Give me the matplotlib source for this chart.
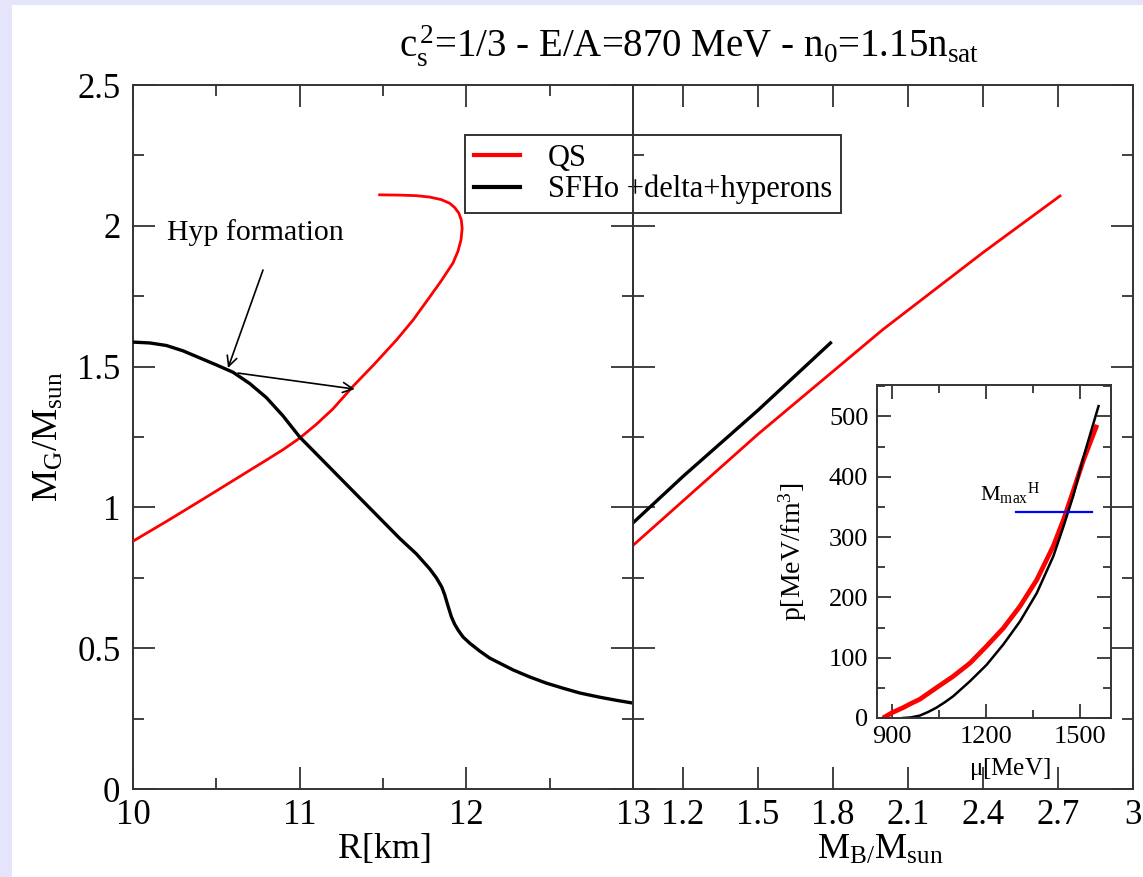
import matplotlib
matplotlib.use("Agg")
import matplotlib.pyplot as plt
from matplotlib.ticker import MultipleLocator
from matplotlib.patches import Rectangle
from matplotlib.lines import Line2D

plt.rcParams['font.family'] = ['Liberation Serif', 'DejaVu Serif']
plt.rcParams['mathtext.fontset'] = 'custom'
plt.rcParams['mathtext.rm'] = 'Liberation Serif'
plt.rcParams['mathtext.it'] = 'Liberation Serif:italic'
plt.rcParams['mathtext.bf'] = 'Liberation Serif:bold'

# ---------------- data ----------------
# Left panel: M_G vs R
qs_R = [10.0, 10.2, 10.4, 10.6, 10.8, 10.9, 11.0, 11.1, 11.2, 11.32, 11.45, 11.58, 11.68,
        11.78, 11.85, 11.92, 11.95, 11.968, 11.975, 11.97, 11.955, 11.93, 11.9, 11.85,
        11.78, 11.7, 11.6, 11.48]
qs_M = [0.88, 0.95, 1.022, 1.095, 1.168, 1.205, 1.246, 1.295, 1.35, 1.43, 1.51, 1.594, 1.665,
        1.747, 1.805, 1.868, 1.91, 1.95, 1.99, 2.02, 2.045, 2.065, 2.08, 2.093,
        2.102, 2.107, 2.109, 2.11]

hyp_R = [10.0, 10.1, 10.2, 10.3, 10.4, 10.5, 10.6, 10.7, 10.8, 10.9, 11.0, 11.1, 11.2,
         11.3, 11.4, 11.5, 11.6, 11.7, 11.78, 11.82, 11.852, 11.87, 11.89, 11.91, 11.93,
         11.95, 11.98, 12.02, 12.08, 12.14, 12.2, 12.28, 12.38, 12.48, 12.58, 12.68,
         12.8, 12.9, 13.0]
hyp_M = [1.587, 1.584, 1.575, 1.556, 1.531, 1.506, 1.48, 1.44, 1.39, 1.325, 1.25, 1.19, 1.13,
         1.07, 1.01, 0.95, 0.89, 0.835, 0.782, 0.75, 0.718, 0.69, 0.65, 0.612, 0.585,
         0.565, 0.54, 0.518, 0.49, 0.465, 0.447, 0.423, 0.398, 0.376, 0.358, 0.341,
         0.326, 0.315, 0.305]

# Right panel: M_G vs M_B
qs_MB = [1.0, 1.5, 2.0, 2.4, 2.708]
qs_MG = [0.865, 1.26, 1.632, 1.905, 2.106]
hyp_MB = [1.0, 1.2, 1.5, 1.79]
hyp_MG = [0.945, 1.11, 1.345, 1.584]

# Inset: p vs mu
qs_mu = [870, 900, 934, 960, 988, 1041, 1095, 1149, 1202, 1256, 1309, 1363, 1416, 1449, 1481, 1513, 1556]
qs_p = [0, 9, 17, 24, 31, 50, 69, 91, 119, 149, 185, 229, 285, 329, 378, 428, 486]
hyp_mu = [934, 960, 988, 1015, 1041, 1068, 1095, 1149, 1202, 1256, 1309, 1363, 1416, 1449, 1481, 1513, 1561]
hyp_p = [0, 1, 4, 10, 17, 26, 36, 61, 88, 122, 160, 207, 268, 318, 370, 433, 517]
mmax_p = 341
mmax_mu = [1296, 1540]

left_xticks = [10, 11, 12, 13]
right_xticks = [1.2, 1.5, 1.8, 2.1, 2.4, 2.7, 3.0]
right_xticklabels = ['1.2', '1.5', '1.8', '2.1', '2.4', '2.7', '3']
yticks = [0, 0.5, 1, 1.5, 2, 2.5]
yticklabels = ['0', '0.5', '1', '1.5', '2', '2.5']
inset_xticks = [900, 1200, 1500]
inset_yticks = [0, 100, 200, 300, 400, 500]

# ---------------- figure ----------------
W, H = 1143, 877
fig = plt.figure(figsize=(W / 100, H / 100), dpi=100)
fig.patch.set_facecolor('white')

lav = '#e4e4fa'
fig.add_artist(Rectangle((0, 0), 12 / W, 1, transform=fig.transFigure, color=lav, lw=0, zorder=0))
fig.add_artist(Rectangle((0, 1 - 5 / H), 1, 5 / H, transform=fig.transFigure, color=lav, lw=0, zorder=0))

def px_axes(x0, y0, x1, y1):
    return [x0 / W, 1 - y1 / H, (x1 - x0) / W, (y1 - y0) / H]

ax1 = fig.add_axes(px_axes(133, 85, 633, 789))
ax2 = fig.add_axes(px_axes(633, 85, 1133, 789))
ax2.patch.set_alpha(0)
axin = fig.add_axes(px_axes(876.7, 385, 1110.7, 718))

spine_c = '#333333'
for a in (ax1, ax2, axin):
    for s in a.spines.values():
        s.set_color(spine_c)
        s.set_linewidth(1.4)

def style(a, labelsize, major, minor, pad):
    a.tick_params(which='both', direction='in', top=True, right=True,
                  color=spine_c, width=1.3, labelsize=labelsize, pad=pad)
    a.tick_params(which='major', length=major)
    a.tick_params(which='minor', length=minor)

# left panel
ax1.plot(qs_R, qs_M, color='#ff0000', lw=2.0, zorder=3)
ax1.plot(hyp_R, hyp_M, color='black', lw=2.4, zorder=3)
ax1.set_xlim(10, 13)
ax1.set_ylim(0, 2.5)
ax1.set_xticks(left_xticks)
ax1.set_xticklabels([str(t) for t in left_xticks])
ax1.xaxis.set_minor_locator(MultipleLocator(0.5))
ax1.set_yticks(yticks)
ax1.set_yticklabels(yticklabels)
ax1.yaxis.set_minor_locator(MultipleLocator(0.25))
style(ax1, 25, 16, 8, 7)
ax1.tick_params(axis='y', pad=9)
ax1.set_xlabel('R[km]', fontsize=26)
ax1.xaxis.set_label_coords(0.504, -0.063)
ax1.xaxis.label.set_va('top')
ax1.set_ylabel(r'$\mathrm{M_G/M_{sun}}$', fontsize=26)
ax1.yaxis.set_label_coords(-0.134, 0.5)

ax1.text(10.204, 1.95, 'Hyp formation', fontsize=21.5, ha='left', va='baseline')
arrow_kw = dict(arrowstyle='->', color='black', lw=1.2, mutation_scale=18, shrinkA=0, shrinkB=0)
ax1.annotate('', xy=(10.57, 1.495), xytext=(10.78, 1.843), arrowprops=arrow_kw)
ax1.annotate('', xy=(11.33, 1.42), xytext=(10.63, 1.477), arrowprops=arrow_kw)

handles = [Line2D([], [], color='#ff0000', lw=3),
           Line2D([], [], color='black', lw=3)]
leg = ax1.legend(handles, ['QS', 'SFHo +delta+hyperons'], fontsize=22,
                 loc='upper left', bbox_to_anchor=(465 / W, 1 - 135 / H),
                 bbox_transform=fig.transFigure, borderaxespad=0, frameon=True,
                 fancybox=False, framealpha=1, edgecolor='#333333',
                 handlelength=1.5, handletextpad=0.9, labelspacing=0.05,
                 borderpad=0.3)
leg.get_frame().set_linewidth(1.4)
leg.set_zorder(10)

# right panel
ax2.plot(qs_MB, qs_MG, color='#ff0000', lw=2.0)
ax2.plot(hyp_MB, hyp_MG, color='black', lw=2.4)
ax2.set_xlim(1.0, 3.0)
ax2.set_ylim(0, 2.5)
ax2.set_xticks(right_xticks)
ax2.set_xticklabels(right_xticklabels)
ax2.set_yticks(yticks)
ax2.set_yticklabels([])
ax2.yaxis.set_minor_locator(MultipleLocator(0.25))
style(ax2, 25, 16, 8, 7)
ax2.set_xlabel(r'$\mathrm{M_{B/}M_{sun}}$', fontsize=26)
ax2.xaxis.set_label_coords(0.494, -0.063)
ax2.xaxis.label.set_va('top')

# inset
axin.plot(qs_mu, qs_p, color='#ff0000', lw=3.4, solid_capstyle='butt')
axin.plot(hyp_mu, hyp_p, color='black', lw=1.8)
axin.plot(mmax_mu, [mmax_p, mmax_p], color='#0000ff', lw=1.6)
axin.text(1181, 360, r'$\mathrm{M_{max}{}^{H}}$', fontsize=16, ha='left', va='baseline')
axin.set_xlim(850, 1600)
axin.set_ylim(0, 552)
axin.set_xticks(inset_xticks)
axin.set_xticklabels([str(t) for t in inset_xticks])
axin.xaxis.set_minor_locator(MultipleLocator(150))
axin.set_yticks(inset_yticks)
axin.set_yticklabels([str(t) for t in inset_yticks])
axin.yaxis.set_minor_locator(MultipleLocator(50))
style(axin, 19, 10, 6, 6)
axin.set_xlabel(r'$\mathrm{\mu[MeV]}$', fontsize=18)
axin.xaxis.set_label_coords(0.57, -0.115)
axin.xaxis.label.set_va('top')
axin.set_ylabel(r'$\mathrm{p[MeV/fm^3]}$', fontsize=20)
axin.yaxis.set_label_coords(-0.29, 0.5)

fig.text(689 / W, 1 - 46 / H,
         r'c$_\mathrm{s}^{\,2}$=1/3 - E/A=870 MeV - n$_\mathrm{0}$=1.15n$_\mathrm{sat}$',
         fontsize=28, ha='center', va='center')

fig.savefig('out.png', dpi=100)
